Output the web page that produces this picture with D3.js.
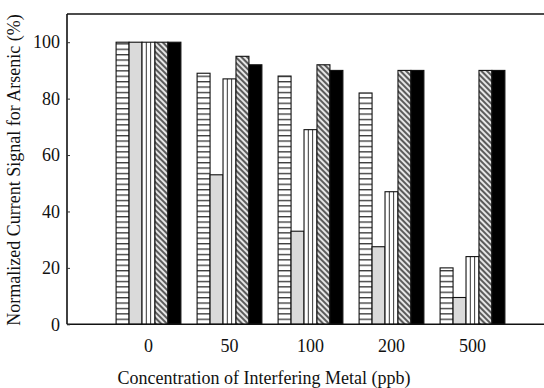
<!DOCTYPE html>
<html>
<head>
<meta charset="utf-8">
<script src="https://cdn.jsdelivr.net/npm/d3@7"></script>
<style>
  body { margin: 0; background: #fff; }
  text { font-family: "Liberation Serif", "Times New Roman", serif; fill: #111; }
</style>
</head>
<body>
<script>
// concentrations of the interfering metal (ppb)
var categories = ["0", "50", "100", "200", "500"];
// one array per interfering metal, normalized As signal (%)
var seriesNames = ["s1", "s2", "s3", "s4", "s5"];
var s1 = [100, 89, 88, 82, 20];
var s2 = [100, 53, 33, 27.5, 9.5];
var s3 = [100, 87, 69, 47, 24];
var s4 = [100, 95, 92, 90, 90];
var s5 = [100, 92, 90, 90, 90];
var yTicks = [0, 20, 40, 60, 80, 100];

var seriesValues = [s1, s2, s3, s4, s5];
var fills = ["url(#hstripe)", "#dadada", "url(#vstripe)", "url(#diag)", "#000"];

var width = 544, height = 388;
var plotLeft = 67, plotTop = 14, plotBottom = 324.3;

var svg = d3.select("body").append("svg")
    .attr("width", width)
    .attr("height", height);

var defs = svg.append("defs");

var hp = defs.append("pattern").attr("id", "hstripe")
    .attr("patternUnits", "userSpaceOnUse")
    .attr("width", 10).attr("height", 5.4);
hp.append("rect").attr("width", 10).attr("height", 5.4).attr("fill", "#fff");
hp.append("line").attr("x1", 0).attr("x2", 10).attr("y1", 0.7).attr("y2", 0.7)
    .attr("stroke", "#222").attr("stroke-width", 1.2);

var vp = defs.append("pattern").attr("id", "vstripe")
    .attr("patternUnits", "objectBoundingBox")
    .attr("width", 1).attr("height", 1);
vp.append("rect").attr("width", 13).attr("height", 400).attr("fill", "#fff");
[4.3, 8.6].forEach(function(px) {
  vp.append("line").attr("x1", px).attr("x2", px).attr("y1", 0).attr("y2", 400)
    .attr("stroke", "#333").attr("stroke-width", 1);
});

var dp = defs.append("pattern").attr("id", "diag")
    .attr("patternUnits", "userSpaceOnUse")
    .attr("width", 4).attr("height", 4)
    .attr("patternTransform", "rotate(45)");
dp.append("rect").attr("width", 4).attr("height", 4).attr("fill", "#e6e6e6");
dp.append("line").attr("x1", 0).attr("x2", 4).attr("y1", 1).attr("y2", 1)
    .attr("stroke", "#111").attr("stroke-width", 1.3);

var x0 = d3.scaleBand()
    .domain(categories)
    .range([108, 513])
    .paddingInner(0.2)
    .paddingOuter(0.1);

var x1 = d3.scaleBand()
    .domain(seriesNames)
    .range([0, x0.bandwidth()]);

var y = d3.scaleLinear()
    .domain([0, 110])
    .range([plotBottom, plotTop]);

// bars
var groups = svg.selectAll("g.group")
    .data(categories)
    .enter()
    .append("g")
    .attr("class", "group")
    .attr("transform", d => `translate(${x0(d)},0)`);

groups.selectAll("rect")
    .data((c, i) => seriesNames.map((s, j) => ({ s: s, v: seriesValues[j][i], j: j })))
    .enter()
    .append("rect")
    .attr("x", d => x1(d.s))
    .attr("width", x1.bandwidth())
    .attr("y", d => y(d.v))
    .attr("height", d => y(0) - y(d.v))
    .attr("fill", d => fills[d.j])
    .attr("stroke", "#111")
    .attr("stroke-width", 1.1);

// frame
var frame = svg.append("g").attr("stroke", "#111").attr("stroke-width", 1.6).attr("fill", "none");
frame.append("line").attr("x1", plotLeft).attr("x2", width).attr("y1", plotTop).attr("y2", plotTop);
frame.append("line").attr("x1", plotLeft).attr("x2", plotLeft).attr("y1", plotTop).attr("y2", plotBottom);
frame.append("line").attr("x1", plotLeft).attr("x2", width).attr("y1", plotBottom).attr("y2", plotBottom);

// y axis, ticks pointing inward
var yAxis = d3.axisRight(y).tickValues(yTicks).tickSize(3).tickFormat(d3.format("d"));
var ya = svg.append("g").attr("transform", `translate(${plotLeft},0)`).call(yAxis);
ya.select(".domain").remove();
ya.selectAll(".tick line").attr("stroke", "#333");
ya.selectAll(".tick text")
    .attr("x", -7)
    .attr("text-anchor", "end")
    .style("font-size", "18px")
    .style("font-family", "Liberation Serif, serif");

// x axis labels, no ticks
var xAxis = d3.axisBottom(x0).tickSize(0);
var xa = svg.append("g").attr("transform", `translate(0,${plotBottom})`).call(xAxis);
xa.select(".domain").remove();
xa.selectAll(".tick text")
    .attr("y", 15)
    .style("font-size", "18px")
    .style("font-family", "Liberation Serif, serif");

svg.append("text")
    .attr("x", 264)
    .attr("y", 384)
    .attr("text-anchor", "middle")
    .style("font-size", "18px")
    .text("Concentration of Interfering Metal (ppb)");

svg.append("text")
    .attr("transform", "translate(20,170) rotate(-90)")
    .attr("text-anchor", "middle")
    .style("font-size", "18px")
    .text("Normalized Current Signal for Arsenic (%)");
</script>
</body>
</html>
